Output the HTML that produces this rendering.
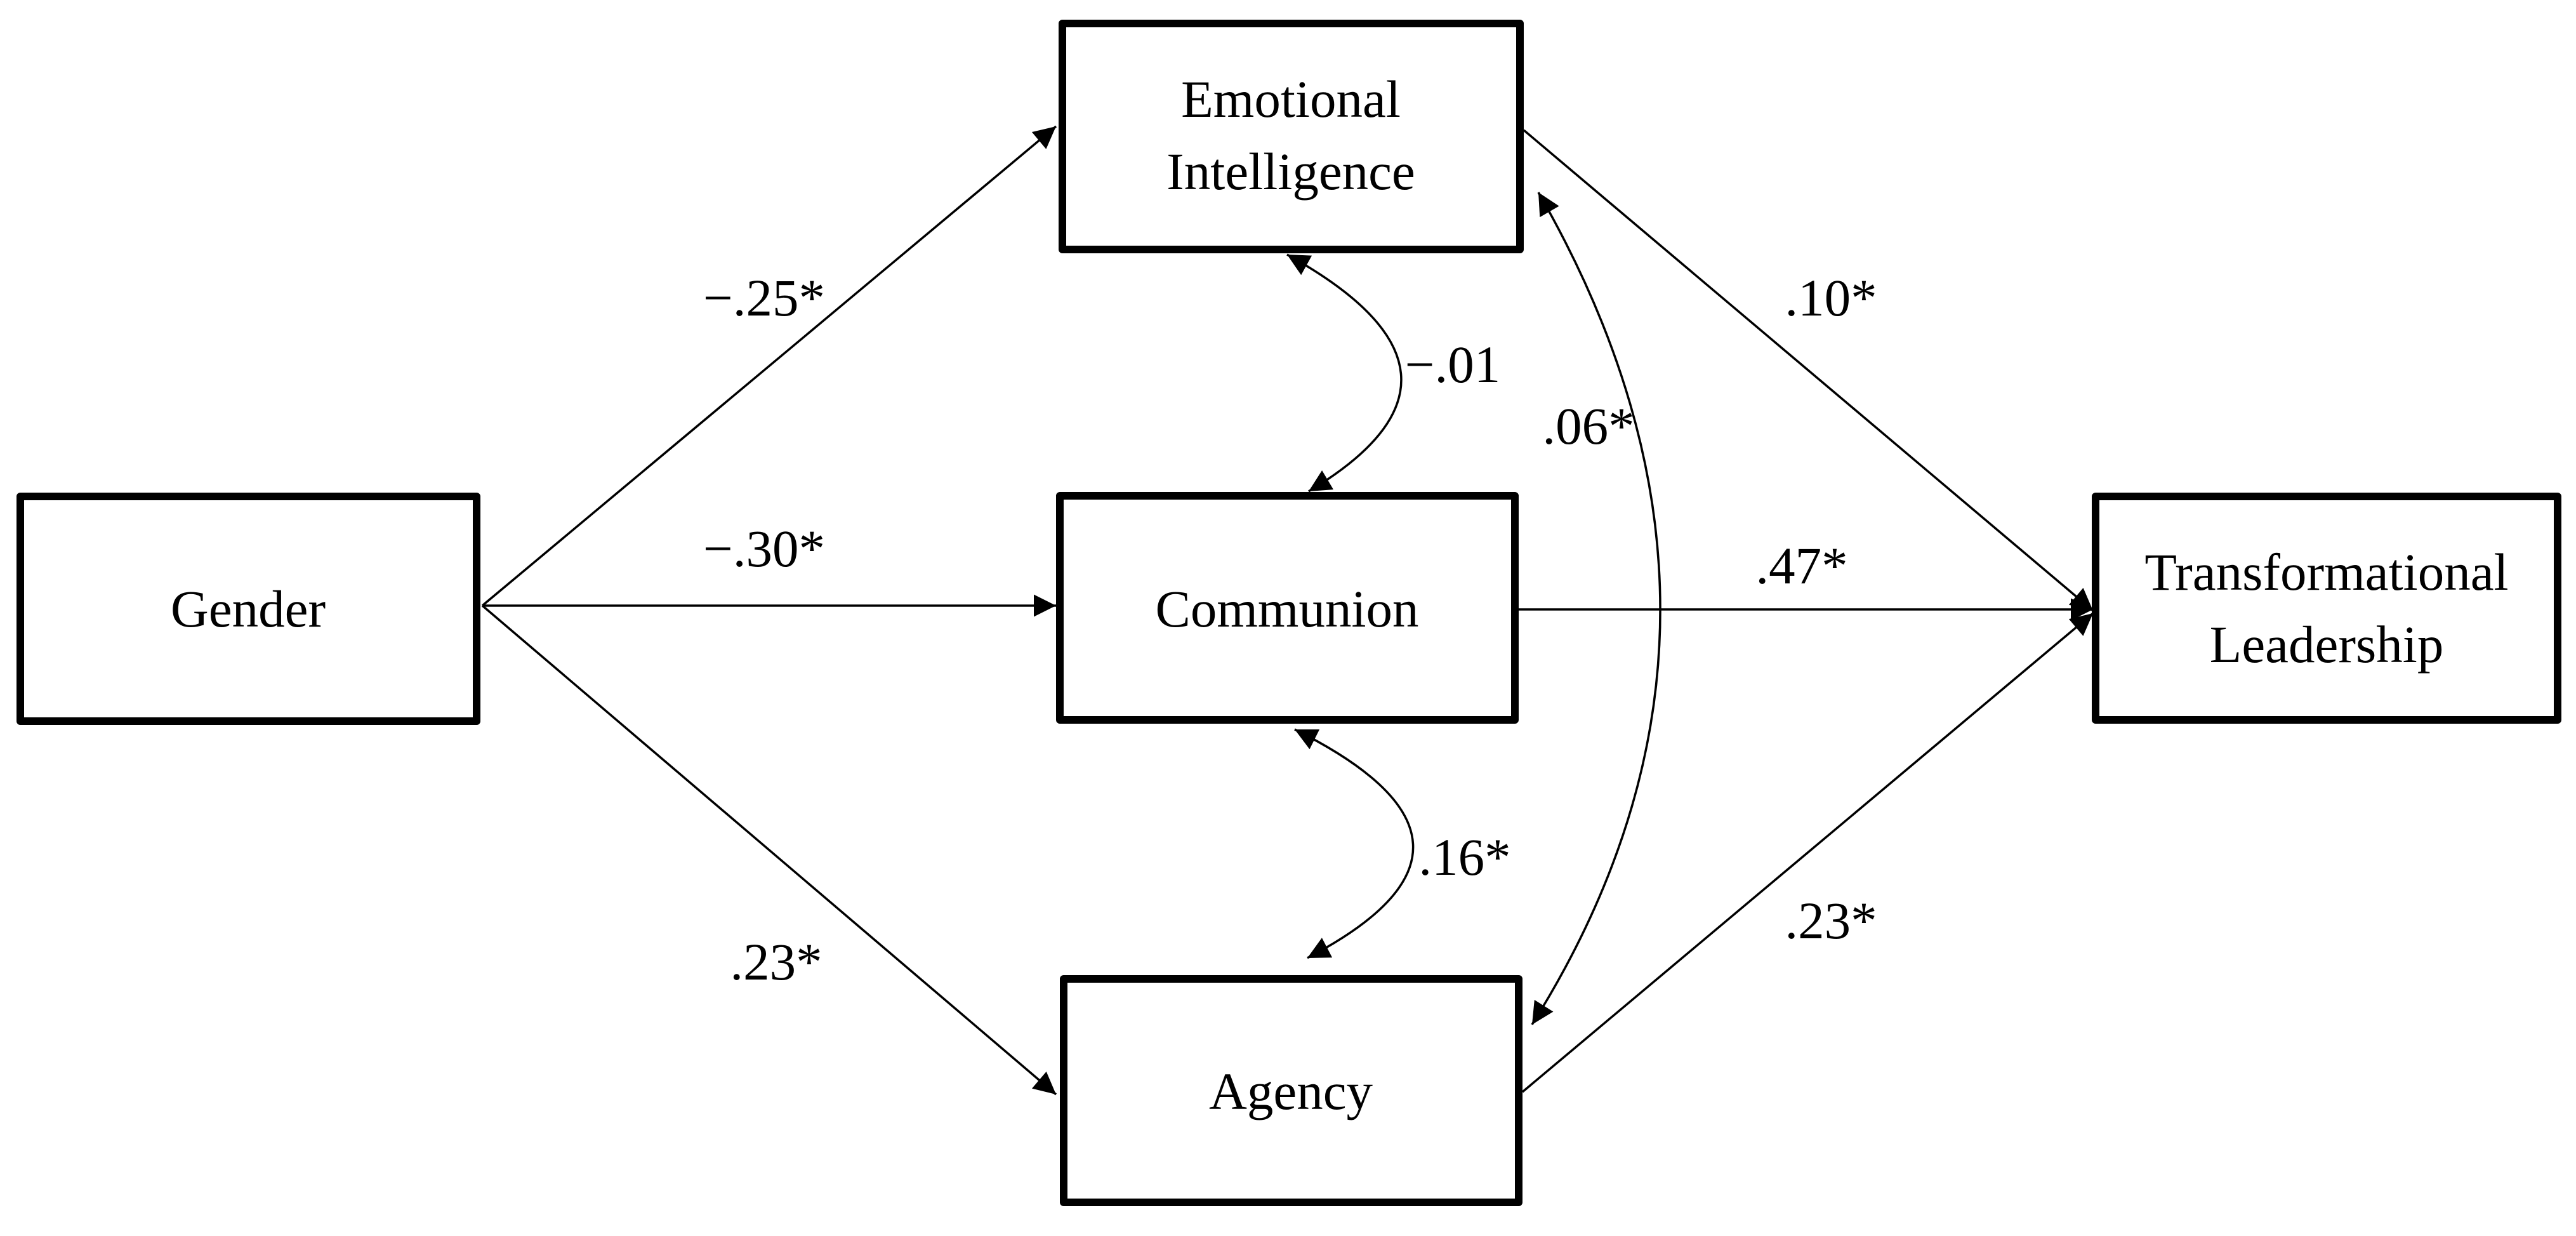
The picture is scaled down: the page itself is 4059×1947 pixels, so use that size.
<!DOCTYPE html>
<html><head><meta charset="utf-8"><style>
html,body{margin:0;padding:0;background:#fff;}
svg{display:block;}
text{font-family:"Liberation Serif",serif;font-size:83px;fill:#000;}
</style></head><body>
<svg width="4059" height="1947" viewBox="0 0 4059 1947" xmlns="http://www.w3.org/2000/svg">
<defs>
<marker id="a" viewBox="0 0 10 10" refX="10" refY="5" markerWidth="11" markerHeight="10" markerUnits="strokeWidth" orient="auto-start-reverse">
<path d="M0,0 L10,5 L0,10 z" fill="#000"/>
</marker>
</defs>
<g fill="none" stroke="#000" stroke-width="12" stroke-linejoin="round">
<rect x="32" y="782" width="719" height="354"/>
<rect x="1674" y="37" width="721" height="356"/>
<rect x="1670" y="781" width="717" height="353"/>
<rect x="1676" y="1542" width="717" height="352"/>
<rect x="3302" y="782" width="728" height="352"/>
</g>
<g fill="none" stroke="#000" stroke-width="3.5">
<line x1="760" y1="954" x2="1664" y2="199" marker-end="url(#a)"/>
<line x1="760" y1="954" x2="1664" y2="954" marker-end="url(#a)"/>
<line x1="760" y1="954" x2="1664" y2="1724" marker-end="url(#a)"/>
<line x1="2401" y1="205" x2="3298" y2="962" marker-end="url(#a)"/>
<line x1="2393" y1="960" x2="3298" y2="960" marker-end="url(#a)"/>
<line x1="2399" y1="1720" x2="3298" y2="966" marker-end="url(#a)"/>
<path d="M2028 401 Q2370 590 2062 774" marker-start="url(#a)" marker-end="url(#a)"/>
<path d="M2040 1149 Q2403 1330 2060 1509" marker-start="url(#a)" marker-end="url(#a)"/>
<path d="M2424 303 Q2813 979 2414 1614" marker-start="url(#a)" marker-end="url(#a)"/>
</g>
<g text-anchor="middle">
<text x="391" y="987">Gender</text>
<text x="2034" y="184">Emotional</text>
<text x="2034" y="298">Intelligence</text>
<text x="2028" y="987">Communion</text>
<text x="2034" y="1747">Agency</text>
<text x="3666" y="929">Transformational</text>
<text x="3666" y="1043">Leadership</text>
<text x="1204" y="497">−.25*</text>
<text x="1204" y="892">−.30*</text>
<text x="1223" y="1543">.23*</text>
<text x="2885" y="497">.10*</text>
<text x="2289" y="602">−.01</text>
<text x="2503" y="699">.06*</text>
<text x="2839" y="919">.47*</text>
<text x="2308" y="1378">.16*</text>
<text x="2885" y="1478">.23*</text>
</g>
</svg>
</body></html>
